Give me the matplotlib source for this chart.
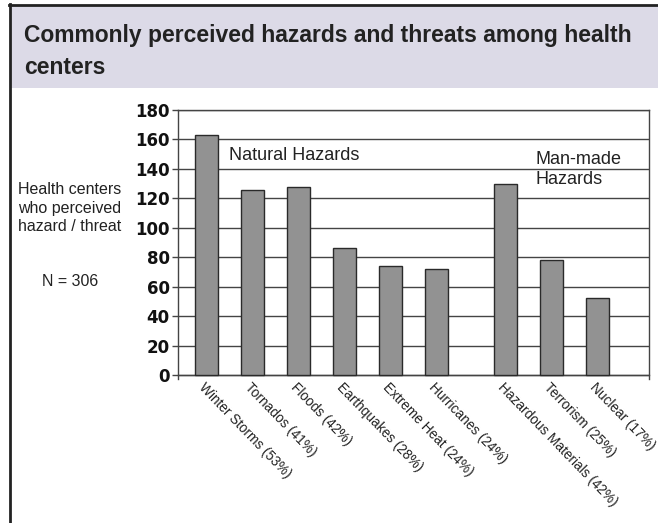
import numpy as np
import matplotlib.pyplot as plt
from matplotlib.patches import Rectangle
from matplotlib.lines import Line2D

# ================================================================
# DADOS
# ================================================================
categories = ['Winter Storms (53%)', 'Tornados (41%)', 'Floods (42%)',
              'Earthquakes (28%)', 'Extreme Heat (24%)', 'Hurricanes (24%)',
              'Hazardous Materials (42%)', 'Terrorism (25%)', 'Nuclear (17%)']
counts = [163, 126, 128, 86, 74, 72, 130, 78, 52]
# posições: 6 naturais, um espaço, 3 causadas pelo homem
positions = [0, 1, 2, 3, 4, 5, 6.5, 7.5, 8.5]
yticks = [0, 20, 40, 60, 80, 100, 120, 140, 160, 180]

W, H = 658, 523
SANS = ['Liberation Sans', 'DejaVu Sans']
fig = plt.figure(figsize=(W/100, H/100), dpi=100)
fig.patch.set_facecolor('white')

# faixa do título + bordas
fig.add_artist(Rectangle((11/W, 1-88/H), 1-11/W, 82/H, transform=fig.transFigure,
                         facecolor='#dcdae7', edgecolor='none', zorder=0))
fig.add_artist(Line2D([10/W, 10/W], [0, 1-4/H], transform=fig.transFigure,
                      color='#222222', lw=2.0))
fig.add_artist(Line2D([9/W, 1], [1-4.5/H, 1-4.5/H], transform=fig.transFigure,
                      color='#222222', lw=2.0))

title_kw = dict(family=SANS, fontweight='bold', fontsize=16.5, color='#222222',
                va='baseline', ha='left')
fig.text(24/W, 1-42/H, 'Commonly perceived hazards and threats among health', **title_kw)
fig.text(24/W, 1-74/H, 'centers', **title_kw)

# ================================================================
# GRÁFICO
# ================================================================
ax = fig.add_axes([178/W, 1-378.7/H, (649.3-178)/W, (378.7-110)/H])
ax.bar(positions, counts, width=0.5, color='#929292', edgecolor='#2a2a2a',
       linewidth=1.0, zorder=3)

ax.set_xlim(-0.62, 9.63)
ax.set_ylim(-2.5, 180)
ax.spines['bottom'].set_position(('data', 0))
for s in ax.spines.values():
    s.set_color('#444444')
    s.set_linewidth(1.0)
ax.set_yticks(yticks)
ax.yaxis.grid(True, color='#444444', linewidth=1.0, zorder=0)
ax.tick_params(axis='y', direction='out', length=4, width=1, color='#444444', pad=2)
for lab in ax.get_yticklabels():
    lab.set_fontfamily(['DejaVu Sans'])
    lab.set_fontweight('bold')
    lab.set_fontsize(12)
    lab.set_color('#111111')

ax.set_xticks(positions)
ax.set_xticklabels(categories, rotation=-46, ha='left', va='top',
                   rotation_mode='anchor', fontsize=9.8,
                   family=SANS, color='#222222')
ax.tick_params(axis='x', length=0, pad=4)

ax.text(0.5, 149, 'Natural Hazards', fontsize=13, family=SANS,
        va='center', ha='left', color='#222222')
ax.text(7.15, 139.6, 'Man-made\nHazards', fontsize=13, family=SANS,
        va='center', ha='left', color='#222222', linespacing=1.2)

# texto à esquerda
fig.text(70/W, 1-208/H, 'Health centers\nwho perceived\nhazard / threat', fontsize=11.5,
         family=SANS, ha='center', va='center', linespacing=1.32, color='#222222')
fig.text(70/W, 1-282/H, 'N = 306', fontsize=11.5, family=SANS,
         ha='center', va='center', color='#222222')

plt.savefig('out.png', dpi=100)
